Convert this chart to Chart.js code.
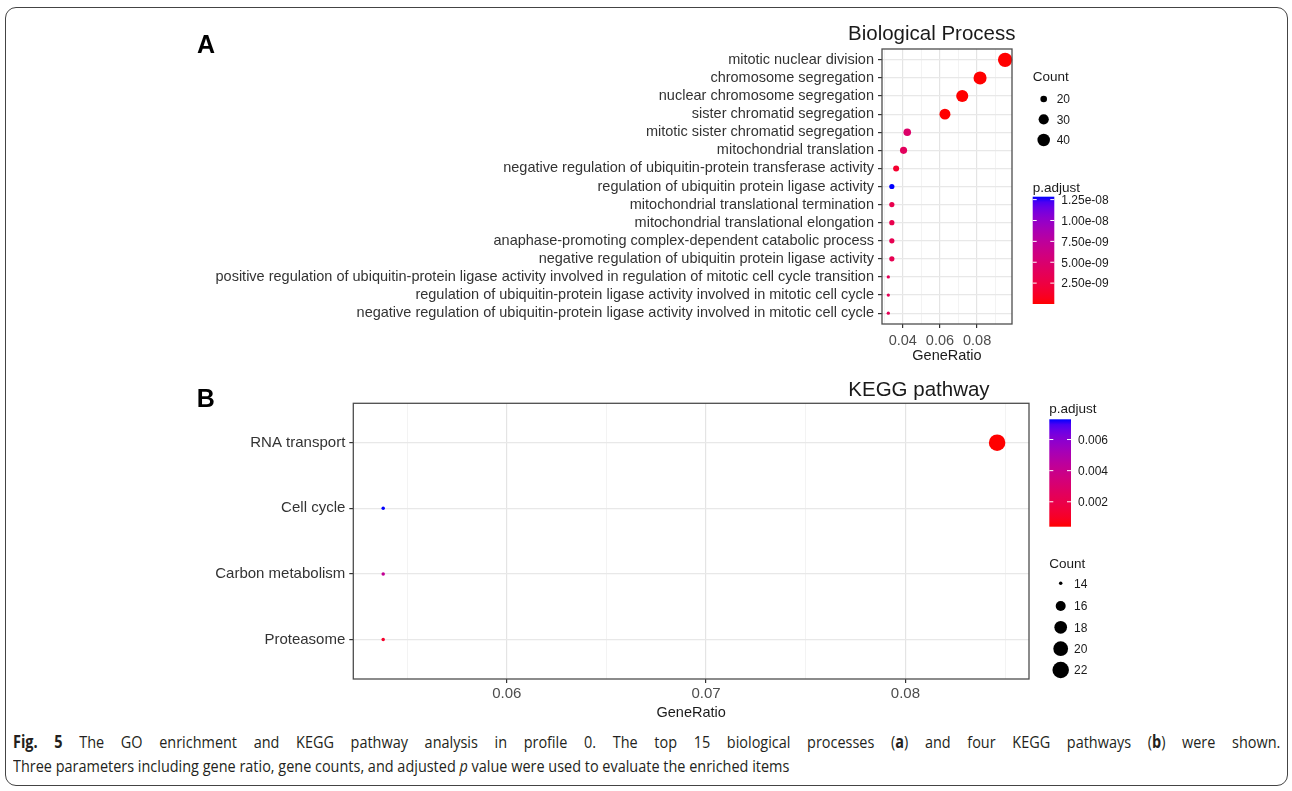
<!DOCTYPE html>
<html>
<head>
<meta charset="utf-8">
<script src="https://cdn.jsdelivr.net/npm/chart.js@4.4.0/dist/chart.umd.min.js"></script>
<style>
  html, body { margin:0; padding:0; background:#fff; }
  body { width:1292px; height:791px; position:relative; overflow:hidden; }
  #frame { position:absolute; left:5px; top:7px; width:1281px; height:777px; border:1.3px solid #444; border-radius:11px; }
  canvas { position:absolute; left:0; }
  #goChart { top:0; }
  #keggChart { top:370px; }
  .cap { position:absolute; left:13px; font:17px 'Open Sans', 'Noto Sans', sans-serif; line-height:24px; color:#231f20; white-space:nowrap; transform-origin:0 0; transform:scaleX(0.85); }
  #cap1 { top:730px; width:1491px; text-align:justify; text-align-last:justify; white-space:normal; }
  #cap2 { top:754px; }
</style>
</head>
<body>
<div id="frame"></div>
<canvas id="goChart" width="1292" height="370"></canvas>
<canvas id="keggChart" width="1292" height="350"></canvas>
<div class="cap" id="cap1"><b>Fig. 5</b> The GO enrichment and KEGG pathway analysis in profile 0. The top 15 biological processes (<b>a</b>) and four KEGG pathways (<b>b</b>) were shown.</div>
<div class="cap" id="cap2">Three parameters including gene ratio, gene counts, and adjusted <i>p</i> value were used to evaluate the enriched items</div>
<script>
// panel A - GO biological process
var goTerms = [
  "mitotic nuclear division",
  "chromosome segregation",
  "nuclear chromosome segregation",
  "sister chromatid segregation",
  "mitotic sister chromatid segregation",
  "mitochondrial translation",
  "negative regulation of ubiquitin-protein transferase activity",
  "regulation of ubiquitin protein ligase activity",
  "mitochondrial translational termination",
  "mitochondrial translational elongation",
  "anaphase-promoting complex-dependent catabolic process",
  "negative regulation of ubiquitin protein ligase activity",
  "positive regulation of ubiquitin-protein ligase activity involved in regulation of mitotic cell cycle transition",
  "regulation of ubiquitin-protein ligase activity involved in mitotic cell cycle",
  "negative regulation of ubiquitin-protein ligase activity involved in mitotic cell cycle"
];
var goRatio = [0.0951, 0.0816, 0.0720, 0.0627, 0.0424, 0.0404, 0.0364, 0.0341, 0.0341, 0.0341, 0.0341, 0.0341, 0.0322, 0.0322, 0.0322];
var goCount = [50, 43, 38, 33, 22, 21, 19, 18, 18, 18, 18, 18, 17, 17, 17];
var goPadj = [1.6e-20, 4.2e-17, 8.9e-16, 2.3e-14, 4.6e-9, 3.9e-9, 1.5e-9, 1.285e-8, 3.1e-9, 3.1e-9, 3.3e-9, 3.3e-9, 3.6e-9, 3.6e-9, 3.6e-9];
var goTicks = [0.04, 0.06, 0.08];
var goMinor = [0.03, 0.05, 0.07, 0.09];
var goCountBreaks = [20, 30, 40];
var goPadjBreaks = [2.5e-9, 5e-9, 7.5e-9, 1e-8, 1.25e-8];
var goPadjLabels = ["2.50e-09", "5.00e-09", "7.50e-09", "1.00e-08", "1.25e-08"];

// panel B - KEGG pathway
var keggTerms = ["RNA transport", "Cell cycle", "Carbon metabolism", "Proteasome"];
var keggRatio = [0.0846, 0.0538, 0.0538, 0.0538];
var keggCount = [22, 14, 14, 14];
var keggPadj = [0.0004, 0.0073, 0.0042, 0.0011];
var keggTicks = [0.06, 0.07, 0.08];
var keggMinor = [0.055, 0.065, 0.075, 0.085];
var keggCountBreaks = [14, 16, 18, 20, 22];
var keggPadjBreaks = [0.002, 0.004, 0.006];
var keggPadjLabels = ["0.002", "0.004", "0.006"];

Chart.defaults.font.family = "'Liberation Sans', Arial, sans-serif";
Chart.defaults.color = "#333";

// red -> blue ramp in Lab space, like ggplot
function toLin(c){ c/=255; return c<=0.04045 ? c/12.92 : Math.pow((c+0.055)/1.055, 2.4); }
function toLab(rgb){
  var r=toLin(rgb[0]), g=toLin(rgb[1]), b=toLin(rgb[2]);
  var X=(0.4124*r+0.3576*g+0.1805*b)/0.95047, Y=0.2126*r+0.7152*g+0.0722*b, Z=(0.0193*r+0.1192*g+0.9505*b)/1.08883;
  function f(t){ return t>0.008856 ? Math.cbrt(t) : 7.787*t+16/116; }
  return [116*f(Y)-16, 500*(f(X)-f(Y)), 200*(f(Y)-f(Z))];
}
function fromLab(L,a,b){
  var fy=(L+16)/116, fx=fy+a/500, fz=fy-b/200;
  function fi(t){ var t3=t*t*t; return t3>0.008856 ? t3 : (t-16/116)/7.787; }
  var X=fi(fx)*0.95047, Y=fi(fy), Z=fi(fz)*1.08883;
  var rgb=[3.2406*X-1.5372*Y-0.4986*Z, -0.9689*X+1.8758*Y+0.0415*Z, 0.0557*X-0.2040*Y+1.0570*Z];
  return rgb.map(function(c){
    c = c<=0.0031308 ? 12.92*c : 1.055*Math.pow(c,1/2.4)-0.055;
    return Math.round(Math.max(0,Math.min(1,c))*255);
  });
}
var LOW=toLab([255,0,0]), HIGH=toLab([0,0,255]);
function ramp(t){
  t=Math.max(0,Math.min(1,t));
  var c=fromLab(LOW[0]+(HIGH[0]-LOW[0])*t, LOW[1]+(HIGH[1]-LOW[1])*t, LOW[2]+(HIGH[2]-LOW[2])*t);
  return "rgb("+c[0]+","+c[1]+","+c[2]+")";
}

function dotChart(id, o){
  var pLo=Math.min.apply(null,o.padj), pHi=Math.max.apply(null,o.padj);
  var cLo=Math.min.apply(null,o.count), cHi=Math.max.apply(null,o.count);
  function colour(p){ return ramp((p-pLo)/(pHi-pLo)); }
  function diam(c){ return o.dMin + o.dRange*Math.sqrt((c-cLo)/(cHi-cLo)); }
  var allX = o.ticks.concat(o.minor).sort(function(a,b){return a-b;});

  var decor = {
    id:"decor",
    afterDatasetsDraw:function(chart){
      var a=chart.chartArea, ctx=chart.ctx;
      ctx.save();
      ctx.strokeStyle="#4d4d4d"; ctx.lineWidth=1.3;
      ctx.strokeRect(a.left, a.top, a.right-a.left, a.bottom-a.top);
      ctx.restore();
    },
    afterDraw:function(chart){
      var a=chart.chartArea, ctx=chart.ctx, L=o.legend;
      ctx.save();
      ctx.fillStyle="#000";
      ctx.font="bold 25px 'Liberation Sans', Arial, sans-serif";
      ctx.textBaseline="alphabetic"; ctx.textAlign="left";
      ctx.fillText(o.letter, o.letterX, o.letterY);
      ctx.fillStyle="#1a1a1a";
      ctx.font="20.5px 'Liberation Sans', Arial, sans-serif";
      ctx.fillText(o.title, o.titleX, o.titleY);
      ctx.font="14.5px 'Liberation Sans', Arial, sans-serif";
      ctx.textAlign="center"; ctx.textBaseline="middle";
      ctx.fillText("GeneRatio", (a.left+a.right)/2, o.axisTitleY);

      // size legend
      ctx.textAlign="left";
      ctx.font="13.5px 'Liberation Sans', Arial, sans-serif";
      ctx.fillText("Count", L.countX, L.countY);
      ctx.font="12px 'Liberation Sans', Arial, sans-serif";
      o.countBreaks.forEach(function(c,i){
        ctx.fillStyle="#000";
        ctx.beginPath(); ctx.arc(L.dotX, L.dotYs[i], diam(c)/2, 0, Math.PI*2); ctx.fill();
        ctx.fillStyle="#1a1a1a";
        ctx.fillText(String(c), L.dotLabelX, L.dotYs[i]+1);
      });

      // colour bar
      var b=L.bar;
      ctx.font="13.5px 'Liberation Sans', Arial, sans-serif";
      ctx.fillText("p.adjust", b.x, L.padjY);
      var grad=ctx.createLinearGradient(0, b.y+b.h, 0, b.y);
      for(var k=0;k<=20;k++){ grad.addColorStop(k/20, ramp(k/20)); }
      ctx.fillStyle=grad; ctx.fillRect(b.x, b.y, b.w, b.h);
      ctx.font="12px 'Liberation Sans', Arial, sans-serif";
      o.padjBreaks.forEach(function(v,i){
        var y=b.y+b.h-(v-pLo)/(pHi-pLo)*b.h;
        ctx.strokeStyle="#fff"; ctx.lineWidth=1;
        ctx.beginPath();
        ctx.moveTo(b.x, y); ctx.lineTo(b.x+4, y);
        ctx.moveTo(b.x+b.w-4, y); ctx.lineTo(b.x+b.w, y);
        ctx.stroke();
        ctx.fillStyle="#1a1a1a";
        ctx.fillText(o.padjLabels[i], b.x+b.w+7, y+1);
      });
      ctx.restore();
    }
  };

  return new Chart(document.getElementById(id), {
    type:"scatter",
    data:{ datasets:[{
      data:o.ratio.map(function(x,i){ return {x:x, y:i}; }),
      pointRadius:function(c){ return diam(o.count[c.dataIndex])/2; },
      pointHoverRadius:function(c){ return diam(o.count[c.dataIndex])/2; },
      pointBackgroundColor:function(c){ return colour(o.padj[c.dataIndex]); },
      pointBorderWidth:0,
      clip:false
    }]},
    options:{
      responsive:false, animation:false, events:[],
      layout:{ padding:o.padding },
      plugins:{ legend:{display:false}, tooltip:{enabled:false} },
      scales:{
        x:{
          type:"linear", min:o.xMin, max:o.xMax,
          afterBuildTicks:function(s){ s.ticks=allX.map(function(v){ return {value:v}; }); },
          afterFit:function(s){ s.height=o.xHeight; },
          border:{display:false},
          grid:{
            drawTicks:true, tickLength:4,
            color:function(c){ return o.ticks.indexOf(c.tick.value)>=0 ? "#e4e4e4" : "#f0f0f0"; },
            lineWidth:function(c){ return o.ticks.indexOf(c.tick.value)>=0 ? 1.2 : 0.8; },
            tickColor:function(c){ return o.ticks.indexOf(c.tick.value)>=0 ? "#333" : "rgba(0,0,0,0)"; }
          },
          ticks:{
            autoSkip:false, maxRotation:0, padding:o.xPad, color:"#4d4d4d",
            font:{size:o.tickFont},
            callback:function(v){ return o.ticks.indexOf(v)>=0 ? v.toFixed(2) : ""; }
          }
        },
        y:{
          type:"linear", reverse:true, min:-0.6, max:o.terms.length-0.4,
          afterBuildTicks:function(s){ s.ticks=o.terms.map(function(t,i){ return {value:i}; }); },
          afterFit:function(s){ s.width=o.yWidth; },
          border:{display:false},
          grid:{ drawTicks:true, tickLength:4, color:"#e8e8e8", lineWidth:1.2, tickColor:"#333" },
          ticks:{
            autoSkip:false, padding:4, color:"#333",
            font:{size:o.labelFont},
            callback:function(v){ return o.terms[v]; }
          }
        }
      }
    },
    plugins:[decor]
  });
}

dotChart("goChart", {
  terms:goTerms, ratio:goRatio, count:goCount, padj:goPadj,
  ticks:goTicks, minor:goMinor, countBreaks:goCountBreaks, padjBreaks:goPadjBreaks, padjLabels:goPadjLabels,
  xMin:0.0288, xMax:0.0988, dMin:3.3, dRange:11,
  padding:{left:0, right:280, top:49, bottom:0}, yWidth:882, xHeight:46, xPad:4,
  tickFont:14.5, labelFont:14.5,
  letter:"A", letterX:197, letterY:53,
  title:"Biological Process", titleX:848, titleY:40, axisTitleY:356,
  legend:{
    countX:1032.7, countY:77, dotX:1043.7, dotYs:[99,119.3,140], dotLabelX:1056.7,
    padjY:188, bar:{x:1032.7, y:196.7, w:21.6, h:107.3}
  }
});

dotChart("keggChart", {
  terms:keggTerms, ratio:keggRatio, count:keggCount, padj:keggPadj,
  ticks:keggTicks, minor:keggMinor, countBreaks:keggCountBreaks, padjBreaks:keggPadjBreaks, padjLabels:keggPadjLabels,
  xMin:0.0523, xMax:0.0862, dMin:3.5, dRange:13,
  padding:{left:0, right:263, top:33.3, bottom:0}, yWidth:353.3, xHeight:41, xPad:2,
  tickFont:15, labelFont:15,
  letter:"B", letterX:196.7, letterY:36.7,
  title:"KEGG pathway", titleX:848.3, titleY:25.7, axisTitleY:342.7,
  legend:{
    countX:1049.3, countY:194, dotX:1060.7, dotYs:[213.3,236,257.3,278.7,300], dotLabelX:1074,
    padjY:39, bar:{x:1049.3, y:49.3, w:21.7, h:107.4}
  }
});
</script>
</body>
</html>
